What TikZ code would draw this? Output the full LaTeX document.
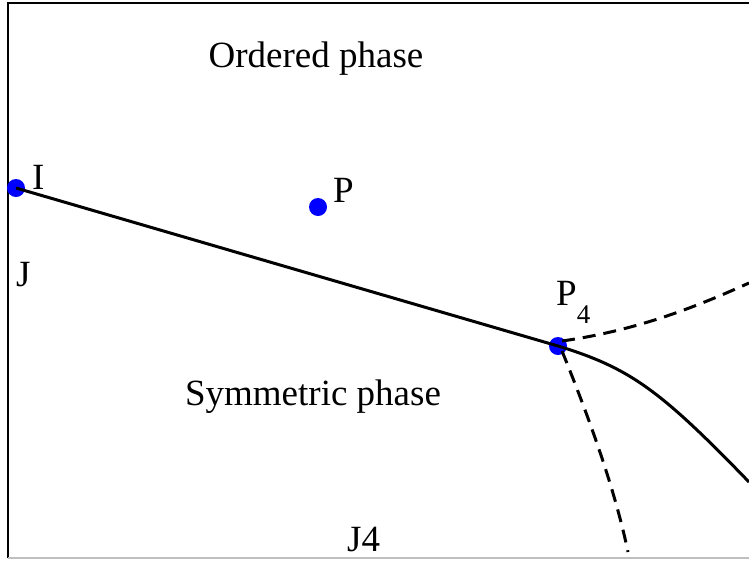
\documentclass[tikz,border=0pt]{standalone}
\usepackage{fontspec}
\setmainfont{Liberation Serif}
\usetikzlibrary{positioning,calc}

\begin{document}
\begin{tikzpicture}[
    x=1pt, y=-1pt,
    dot/.style={circle, fill=blue, inner sep=0pt, minimum size=18pt},
    label/.style={font=\fontsize{37}{44}\selectfont, inner sep=0pt, anchor=base west},
    phase/.style={font=\fontsize{37}{44}\selectfont, inner sep=0pt, anchor=base},
    border/.style={line width=1.5pt, draw=black},
    curve/.style={line width=3pt, draw=black},
    dashcurve/.style={line width=3pt, draw=black, dash pattern=on 13pt off 8pt},
]

\useasboundingbox (0,0) rectangle (749,560);

% Frame
\draw[border] (8,558) -- (8,3) -- (749,3);
\draw[line width=1.5pt, draw=black!25] (8,558) -- (749,558);

% Points
\node[dot] (I) at (16,188) {};
\node[dot] (P) at (318,207) {};
\node[dot] (P4) at (558,346) {};

% Labels
\node[label] (lI) at (32,189) {I};
\node[label] (lP) at (333,202) {P};
\node[label] (lJ) at (16,286) {J};
\node[label] (lP4) at (556,305) {P\raisebox{-0.5em}{\fontsize{27}{30}\selectfont 4}};
\node[label] (lJ4) at (347,551) {J4};
\node[phase] (ordered) at (316,67) {Ordered phase};
\node[phase] (symmetric) at (313,405) {Symmetric phase};

% Phase boundary
\coordinate (endA) at (749,482);
\coordinate (endB) at (749,283);
\coordinate (endC) at (628,552);
\draw[curve] (I.center) -- (P4.center)
  .. controls (630,368) and (660,390) .. (endA);

% Dashed branches
\draw[dashcurve] (P4.center) ++(4,-5) .. controls (640,330) and (700,305) .. (endB);
\draw[dashcurve] (P4.center) ++(4,5) .. controls (590,420) and (615,490) .. (endC);

\end{tikzpicture}
\end{document}
